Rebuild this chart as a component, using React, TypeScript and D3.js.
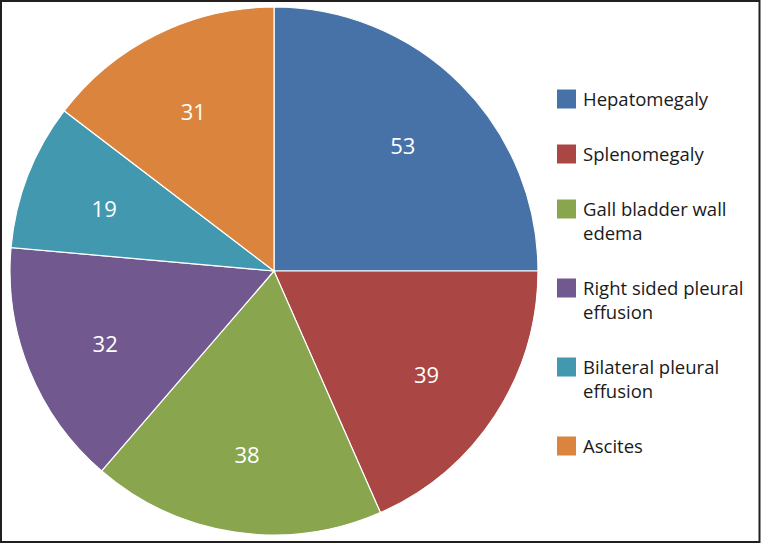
import React, { useEffect, useRef } from "react";
import * as d3 from "d3";

// findings (n)
const categories = [
  "Hepatomegaly",
  "Splenomegaly",
  "Gall bladder wall edema",
  "Right sided pleural effusion",
  "Bilateral pleural effusion",
  "Ascites",
];
const values = [53, 39, 38, 32, 19, 31];
// legend text as it wraps in the original
const legendLines = [
  ["Hepatomegaly"],
  ["Splenomegaly"],
  ["Gall bladder wall", "edema"],
  ["Right sided pleural", "effusion"],
  ["Bilateral pleural", "effusion"],
  ["Ascites"],
];
const colors = ["#4672A8", "#AA4643", "#89A54E", "#71588F", "#4198AF", "#DB843D"];

const W = 761,
  H = 543;

const App = () => {
  const svgRef = useRef<SVGSVGElement>(null);

  useEffect(() => {
    const svg = d3.select(svgRef.current);
    svg.selectAll("*").remove();

    const cx = 274,
      cy = 271,
      r = 264;
    const font = "'Open Sans', sans-serif";

    svg
      .append("rect")
      .attr("x", 1)
      .attr("y", 1)
      .attr("width", W - 2.5)
      .attr("height", H - 2)
      .attr("fill", "#fff")
      .attr("stroke", "#231f20")
      .attr("stroke-width", 2);

    const pie = d3
      .pie<number>()
      .sort(null)
      .value((d) => d);
    const arcs = pie(values);
    const arc = d3.arc<d3.PieArcDatum<number>>().innerRadius(0).outerRadius(r);
    const labelArc = d3
      .arc<d3.PieArcDatum<number>>()
      .innerRadius(r * 0.69)
      .outerRadius(r * 0.69);

    const g = svg.append("g").attr("transform", `translate(${cx},${cy})`);

    g.selectAll("path")
      .data(arcs)
      .enter()
      .append("path")
      .attr("d", arc)
      .attr("fill", (d, i) => colors[i])
      .attr("stroke", "#fff")
      .attr("stroke-width", 1.2);

    g.selectAll("text")
      .data(arcs)
      .enter()
      .append("text")
      .attr("transform", (d) => `translate(${labelArc.centroid(d)})`)
      .attr("text-anchor", "middle")
      .attr("dy", "0.55em")
      .attr("fill", "#fff")
      .attr("font-family", font)
      .attr("font-size", 22)
      .text((d) => d.data);

    // legend: one-line items step 55px, each extra line adds a line height
    const lineH = 24;
    const legendY: number[] = [];
    let y = 99;
    legendLines.forEach((lines) => {
      legendY.push(y);
      y += 55 + lineH * (lines.length - 1);
    });

    const items = svg
      .append("g")
      .selectAll("g")
      .data(categories)
      .enter()
      .append("g")
      .attr("transform", (d, i) => `translate(557,${legendY[i]})`);

    items
      .append("rect")
      .attr("x", 0)
      .attr("y", -9.5)
      .attr("width", 19)
      .attr("height", 19)
      .attr("fill", (d, i) => colors[i]);

    items
      .append("text")
      .attr("x", 26)
      .attr("font-family", font)
      .attr("font-size", 18.5)
      .attr("fill", "#1a1a1a")
      .selectAll("tspan")
      .data((d, i) => legendLines[i])
      .enter()
      .append("tspan")
      .attr("x", 26)
      .attr("y", (d, j) => j * lineH)
      .attr("dy", "0.36em")
      .text((d) => d);
  }, []);

  return (
    <svg
      ref={svgRef}
      width={W}
      height={H}
      style={{ position: "absolute", left: 0, top: 0, display: "block" }}
    ></svg>
  );
};

export default App;
